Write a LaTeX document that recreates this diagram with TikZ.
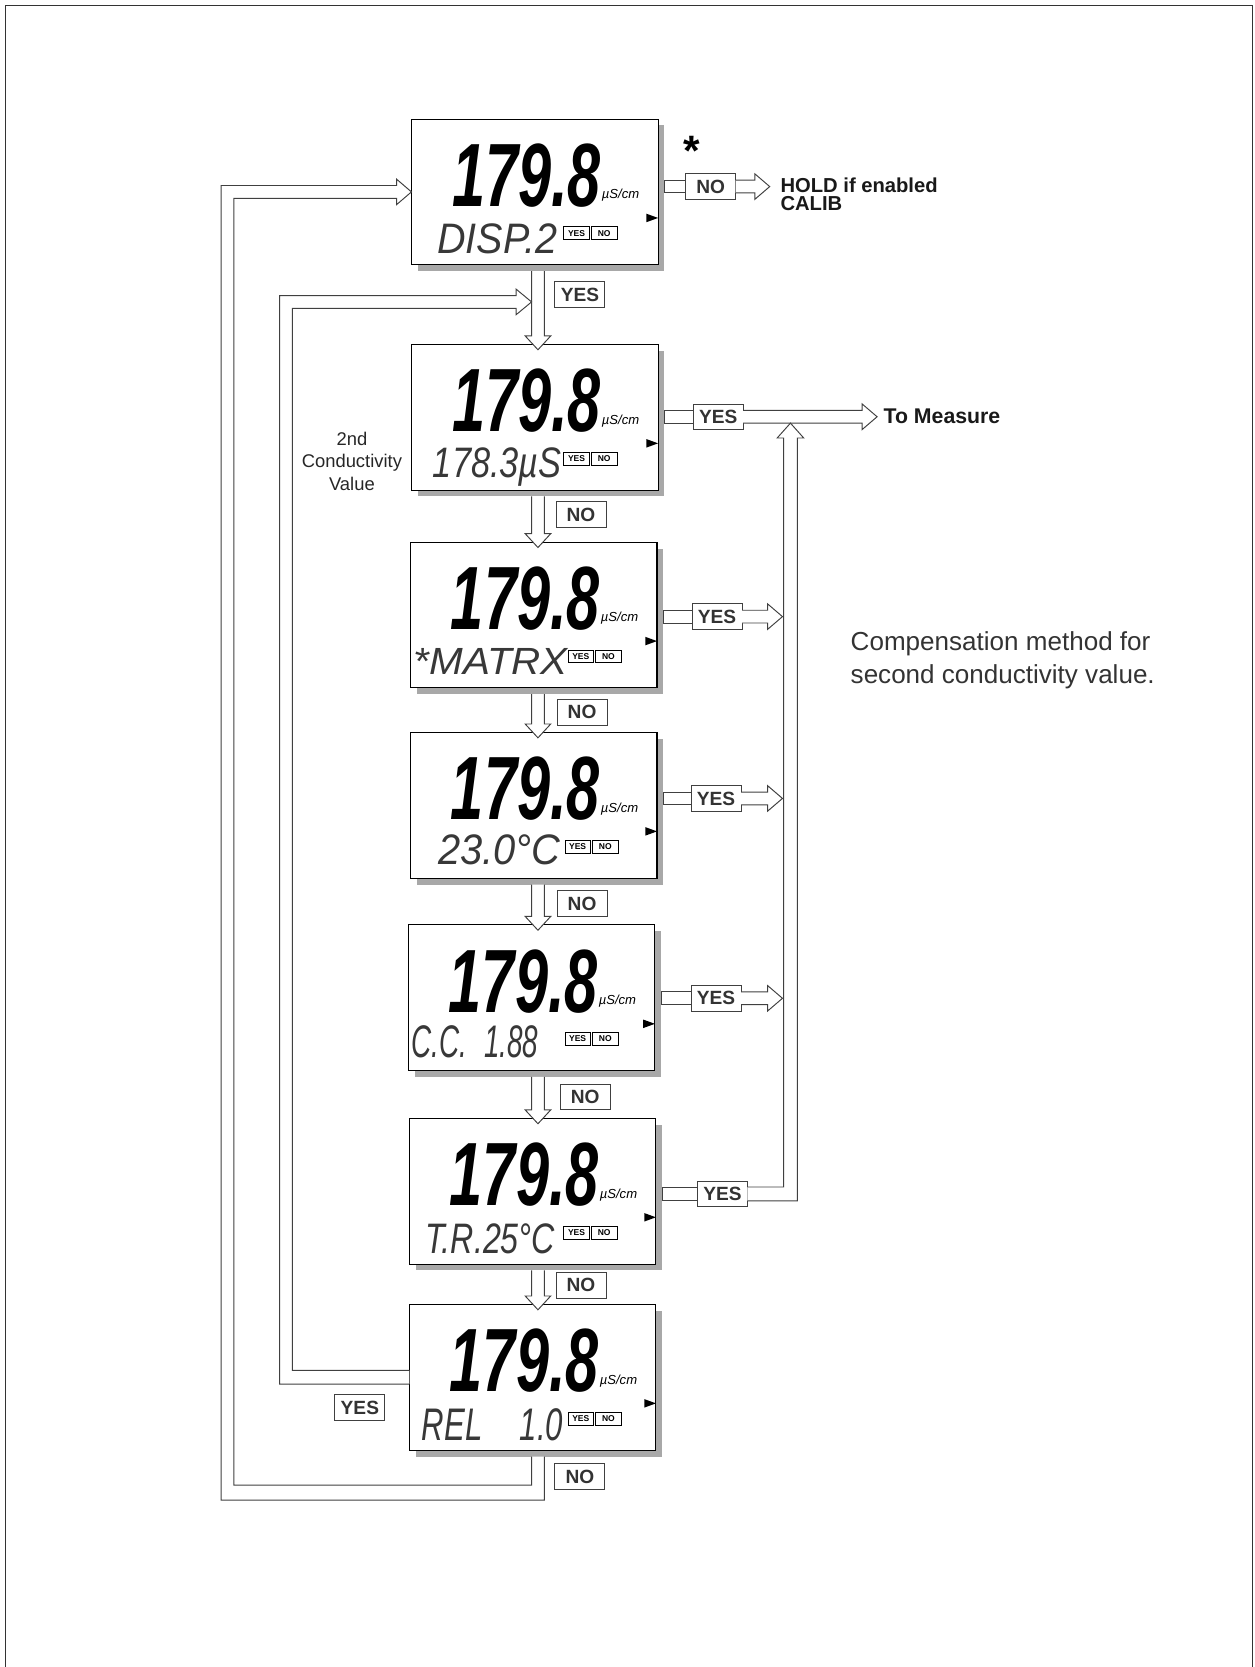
\documentclass[tikz,border=0pt]{standalone}
\usepackage{fontspec}
\usepackage{graphicx}
\setmainfont{Liberation Sans}
\usetikzlibrary{calc}
\definecolor{shadowc}{gray}{0.66}
\definecolor{linec}{gray}{0.25}
\definecolor{txtc}{gray}{0.2}
\tikzset{
 lcdbox/.style={draw=black, line width=1pt, fill=white, minimum width=232pt, minimum height=137pt, inner sep=0pt, outer sep=0pt, anchor=north west},
 bigdig/.style={anchor=base west, inner sep=0pt, font=\fontsize{60}{60}\selectfont\bfseries\itshape},
 unitlbl/.style={anchor=base west, inner sep=0pt, font=\fontsize{12.3}{12}\selectfont\itshape},
 secline/.style={anchor=base west, inner sep=0pt, text=black!78, font=\fontsize{30}{30}\selectfont\itshape},
 yn/.style={draw=black, line width=0.6pt, minimum width=24pt, minimum height=12pt, inner sep=0pt, anchor=north west, font=\fontsize{8}{8}\selectfont\bfseries},
 lbl/.style={draw=linec, line width=0.9pt, fill=white, text=txtc, minimum width=47pt, minimum height=24pt, inner sep=0pt, outer sep=0pt, anchor=north west, font=\fontsize{18}{18}\selectfont\bfseries},
 blk/.style={draw=linec, line width=0.9pt, fill=white, line join=miter},
 dbl/.style={draw=linec, line width=0.9pt},
 headtxt/.style={anchor=base west, inner sep=0pt, text=black!90, font=\fontsize{20}{20}\selectfont\bfseries},
 notetxt/.style={anchor=base west, inner sep=0pt, text=black!80, font=\fontsize{24.5}{24.5}\selectfont},
 sidetxt/.style={anchor=base, inner sep=0pt, text=black!85, font=\fontsize{17.3}{17.3}\selectfont},
}
% LCD unit: name, x, y, x offset of YES/NO boxes
\newcommand\lcdunit[4]{%
 \fill[shadowc] (#2+6,#3+6) rectangle (#2+238,#3+143);
 \node[lcdbox] (#1) at (#2,#3) {};
 \node[bigdig] (#1-big) at (#2+38,#3+82) {\resizebox{140pt}{59pt}{179.8}};
 \node[unitlbl] (#1-unit) at (#2+179,#3+75) {µS/cm};
 \fill (#2+221,#3+89) -- (#2+232,#3+93) -- (#2+221,#3+97) -- cycle;
 \node[yn] (#1-yes) at (#2+#4,#3+101) {YES};
 \node[yn] (#1-no) at (#2+#4+26,#3+101) {NO};
}
% hollow arrow down from box #1 into box #2
\newcommand\downblk[2]{%
 \draw[blk] let \p1=(#1.south), \p2=(#2.north), \p3=(col) in
 (\x3-6pt,\y1-6pt) -- (\x3-6pt,\y2+8pt) -- (\x3-12pt,\y2+8pt) -- (\x3,\y2-5pt)
 -- (\x3+12pt,\y2+8pt) -- (\x3+6pt,\y2+8pt) -- (\x3+6pt,\y1-6pt);}
% hollow arrow right from label #1 to x of #2
\newcommand\rightblk[2]{%
 \draw[blk] let \p1=(#1.east), \p2=(#2) in
 (\x1,\y1+6pt) -- (\x2-14pt,\y1+6pt) -- (\x2-14pt,\y1+12pt) -- (\x2,\y1)
 -- (\x2-14pt,\y1-12pt) -- (\x2-14pt,\y1-6pt) -- (\x1,\y1-6pt);}
% double stub from box #1 to label #2
\newcommand\stubin[2]{%
 \draw[dbl] let \p1=(#1.east), \p2=(#2.west) in
 (\x2,\y2+6pt) -- (\x1+6pt,\y2+6pt) -- (\x1+6pt,\y2-6pt) -- (\x2,\y2-6pt);}
\begin{document}
\begin{tikzpicture}[x=1pt,y=-1pt]
\useasboundingbox (0,0) rectangle (1180,1568);
\draw[black!80, line width=1.5pt] (5,1580) -- (5,5) -- (1178,5) -- (1178,1580);

\coordinate (col) at (506,0);

\lcdunit{b1}{387}{112}{143}
\lcdunit{b2}{387}{324}{143}
\lcdunit{b3}{386}{510}{148}
\lcdunit{b4}{386}{689}{145}
\lcdunit{b5}{384}{870}{147}
\lcdunit{b6}{385}{1052}{145}
\lcdunit{b7}{385}{1227}{149}

\node[secline] (b1-l2) at ($(b1.north west)+(24,126)$) {\resizebox{113pt}{28pt}{DISP.2}};
\node[secline] (b2-l2) at ($(b2.north west)+(20,125)$) {\resizebox{121pt}{28pt}{178.3µS}};
\node[secline] (b3-l2) at ($(b3.north west)+(3,124.5)$) {\resizebox{145pt}{24.5pt}{*MATRX}};
\node[secline] (b4-l2) at ($(b4.north west)+(26,124)$) {\resizebox{115pt}{28pt}{23.0°C}};
\node[secline] (b5-l2) at ($(b5.north west)+(3,125)$) {\resizebox{119pt}{30pt}{C.C.\hspace{0.6em}1.88}};
\node[secline] (b6-l2) at ($(b6.north west)+(14.7,127)$) {\resizebox{122pt}{28pt}{T.R.25°C}};
\node[secline] (b7-l2) at ($(b7.north west)+(11.6,128)$) {\resizebox{133pt}{30pt}{REL\hspace{1.2em}1.0}};

% labels on the vertical flow
\node[lbl] (v1) at (522,265) {YES};
\node[lbl] (v2) at (523,472) {NO};
\node[lbl] (v3) at (524,658) {NO};
\node[lbl] (v4) at (524,838) {NO};
\node[lbl] (v5) at (527,1020) {NO};
\node[lbl] (v6) at (523,1197) {NO};
\node[lbl] (v7) at (522,1377) {NO};
\node[lbl] (ly) at (315,1312) {YES};

% labels on the right branches
\node[lbl] (n1) at (645,163.5) {NO};
\node[lbl] (y2) at (652,380) {YES};
\node[lbl] (y3) at (651,568) {YES};
\node[lbl] (y4) at (650,739) {YES};
\node[lbl] (y5) at (650,927) {YES};
\node[lbl] (y6) at (656,1111) {YES};

% texts
\node[anchor=base, inner sep=0pt, font=\fontsize{40}{40}\selectfont\bfseries] (star) at (651,156) {*};
\node[anchor=north west, inner sep=0pt, align=left, text=black!90, font=\fontsize{19}{17.5}\selectfont\bfseries] (hold) at (734,167) {HOLD if enabled\\CALIB};
\node[headtxt] (meas) at (831,398) {To Measure};
\node[notetxt] (note1) at (800,612) {Compensation method for};
\node[notetxt] (note2) at (800,643) {second conductivity value.};
\node[sidetxt] (cv1) at (331,419) {2nd};
\node[sidetxt] (cv2) at (331,440) {Conductivity};
\node[sidetxt] (cv3) at (331,461) {Value};

% vertical flow arrows
\downblk{b1}{b2}
\downblk{b2}{b3}
\downblk{b3}{b4}
\downblk{b4}{b5}
\downblk{b5}{b6}
\downblk{b6}{b7}

% right branches
\coordinate (tipno) at (724,0);
\coordinate (tipmeas) at (825,0);
\coordinate (tipch) at (736,0);
\stubin{b1}{n1}
\rightblk{n1}{tipno}
\stubin{b2}{y2}
\rightblk{y2}{tipmeas}
\stubin{b3}{y3}
\rightblk{y3}{tipch}
\stubin{b4}{y4}
\rightblk{y4}{tipch}
\stubin{b5}{y5}
\rightblk{y5}{tipch}
\stubin{b6}{y6}
% rising channel from the last YES into To Measure
\draw[blk] let \p1=(y6.east), \p2=(y2.center) in
 (\x1,\y1+6.5pt) -- (737pt,\y1+6.5pt) -- (737pt,\y2-20pt) -- (731pt,\y2-20pt)
 -- (743.5pt,\y2-6pt) -- (756pt,\y2-20pt) -- (750pt,\y2-20pt) -- (750pt,\y1-6.5pt) -- (\x1,\y1-6.5pt);

% outer loop: NO from b7 back to b1
\draw[blk] let \p1=(b7.south), \p2=(b1.west), \p3=(col) in
 (\x3+6pt,\y1-6pt) -- (\x3+6pt,-1411pt) -- (208pt,-1411pt) -- (208pt,\y2+6pt)
 -- (\x2-14pt,\y2+6pt) -- (\x2-14pt,\y2+12pt) -- (\x2,\y2) -- (\x2-14pt,\y2-12pt)
 -- (\x2-14pt,\y2-6pt) -- (220pt,\y2-6pt) -- (220pt,-1397pt) -- (\x3-6pt,-1397pt) -- (\x3-6pt,\y1-6pt);

% inner loop: YES from b7 back into the flow below b1
\draw[blk] let \p1=(b7.west), \p3=(col) in
 (\x1,\y1+6.5pt) -- (275pt,\y1+6.5pt) -- (275pt,-290pt) -- (\x3-20.5pt,-290pt)
 -- (\x3-20.5pt,-296pt) -- (\x3-6pt,-284pt) -- (\x3-20.5pt,-272pt) -- (\x3-20.5pt,-278pt)
 -- (263pt,-278pt) -- (263pt,\y1-6.5pt) -- (\x1,\y1-6.5pt);
\end{tikzpicture}
\end{document}
